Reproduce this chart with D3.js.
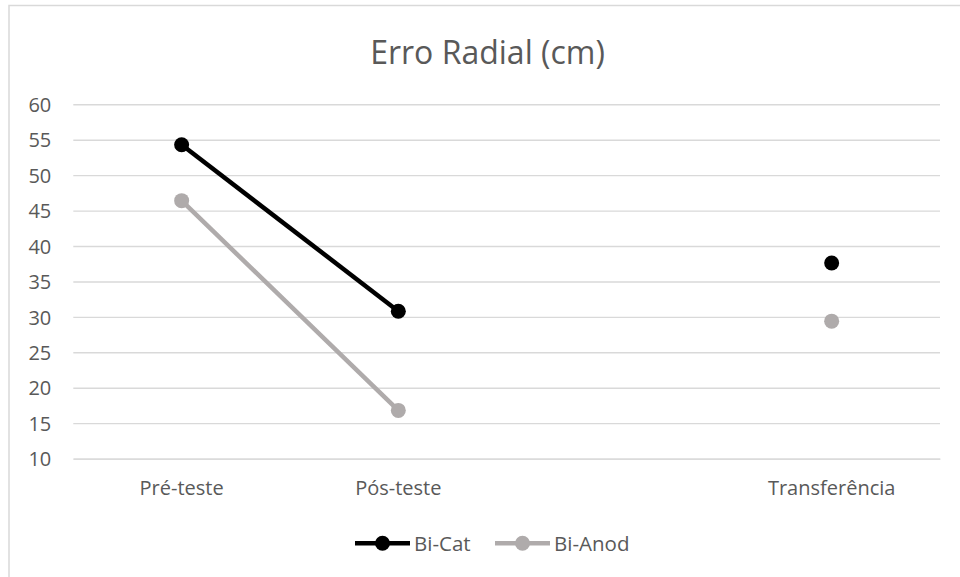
<!DOCTYPE html>
<html>
<head>
<meta charset="utf-8">
<script src="https://cdn.jsdelivr.net/npm/d3@7"></script>
<style>
  html, body { margin: 0; padding: 0; background: #fff; }
  svg { display: block; }
  text { font-family: "Open Sans", sans-serif; fill: #595959; }
</style>
</head>
<body>
<svg id="chart" width="960" height="577"></svg>
<script>
const categories = ["Pré-teste", "Pós-teste", "", "Transferência"];
const biCat = [54.3, 30.8, null, 37.6];
const biAnod = [46.4, 16.8, null, 29.4];
const yTicks = [10, 15, 20, 25, 30, 35, 40, 45, 50, 55, 60];
const seriesNames = ["Bi-Cat", "Bi-Anod"];
const seriesColors = ["#000000", "#AFABAB"];

const svg = d3.select("#chart");

// outer chart border
svg.append("rect")
  .attr("x", 9).attr("y", 5.5)
  .attr("width", 980).attr("height", 600)
  .attr("fill", "none").attr("stroke", "#d9d9d9").attr("stroke-width", 1.5);

const x = d3.scaleBand().domain(categories.map((c, i) => i)).range([73.3, 940]).padding(0);
const y = d3.scaleLinear().domain([10, 60]).range([458.6, 104.3]);

// title
svg.append("text")
  .attr("x", 487.5).attr("y", 63.5)
  .attr("text-anchor", "middle")
  .style("font-size", "32px")
  .text("Erro Radial (cm)");

// gridlines
const yAxis = d3.axisLeft(y).tickValues(yTicks).tickSize(-(940 - 73.3)).tickPadding(22);
const gy = svg.append("g").attr("transform", "translate(73.3,0)").call(yAxis);
gy.select(".domain").remove();
gy.selectAll(".tick line").attr("stroke", "#d9d9d9").attr("stroke-width", 1.4);
gy.selectAll(".tick text").style("font-size", "20px").attr("fill", "#595959")
  .attr("dy", "0.36em");

// x axis
const xAxis = d3.axisBottom(x).tickFormat(i => categories[i]).tickSize(0).tickPadding(22);
const gx = svg.append("g").attr("transform", "translate(0,458.6)").call(xAxis);
gx.select(".domain").attr("stroke", "#d9d9d9").attr("stroke-width", 1.4);
gx.selectAll(".tick text").style("font-size", "20px").attr("fill", "#595959");

const series = [biCat, biAnod];
const cx = i => x(i) + x.bandwidth() / 2;
const line = d3.line().defined(d => d != null).x((d, i) => cx(i)).y(d => y(d));

series.forEach((vals, s) => {
  svg.append("path")
    .datum(vals)
    .attr("d", line)
    .attr("fill", "none")
    .attr("stroke", seriesColors[s])
    .attr("stroke-width", 4.5)
    .attr("stroke-linejoin", "round");
  svg.append("g").selectAll("circle")
    .data(vals.map((v, i) => ({v, i})).filter(d => d.v != null))
    .join("circle")
    .attr("cx", d => cx(d.i))
    .attr("cy", d => y(d.v))
    .attr("r", 7.5)
    .attr("fill", seriesColors[s]);
});

// legend
const legendItems = [
  {x0: 355, name: seriesNames[0], color: seriesColors[0]},
  {x0: 495, name: seriesNames[1], color: seriesColors[1]}
];
const ly = 543.3;
legendItems.forEach(it => {
  const g = svg.append("g");
  g.append("line").attr("x1", it.x0).attr("x2", it.x0 + 55).attr("y1", ly).attr("y2", ly)
    .attr("stroke", it.color).attr("stroke-width", 4.5);
  g.append("circle").attr("cx", it.x0 + 27.5).attr("cy", ly).attr("r", 7.5).attr("fill", it.color);
  g.append("text").attr("x", it.x0 + 59).attr("y", ly).attr("dy", "0.36em")
    .style("font-size", "20.5px").text(it.name);
});
</script>
</body>
</html>
